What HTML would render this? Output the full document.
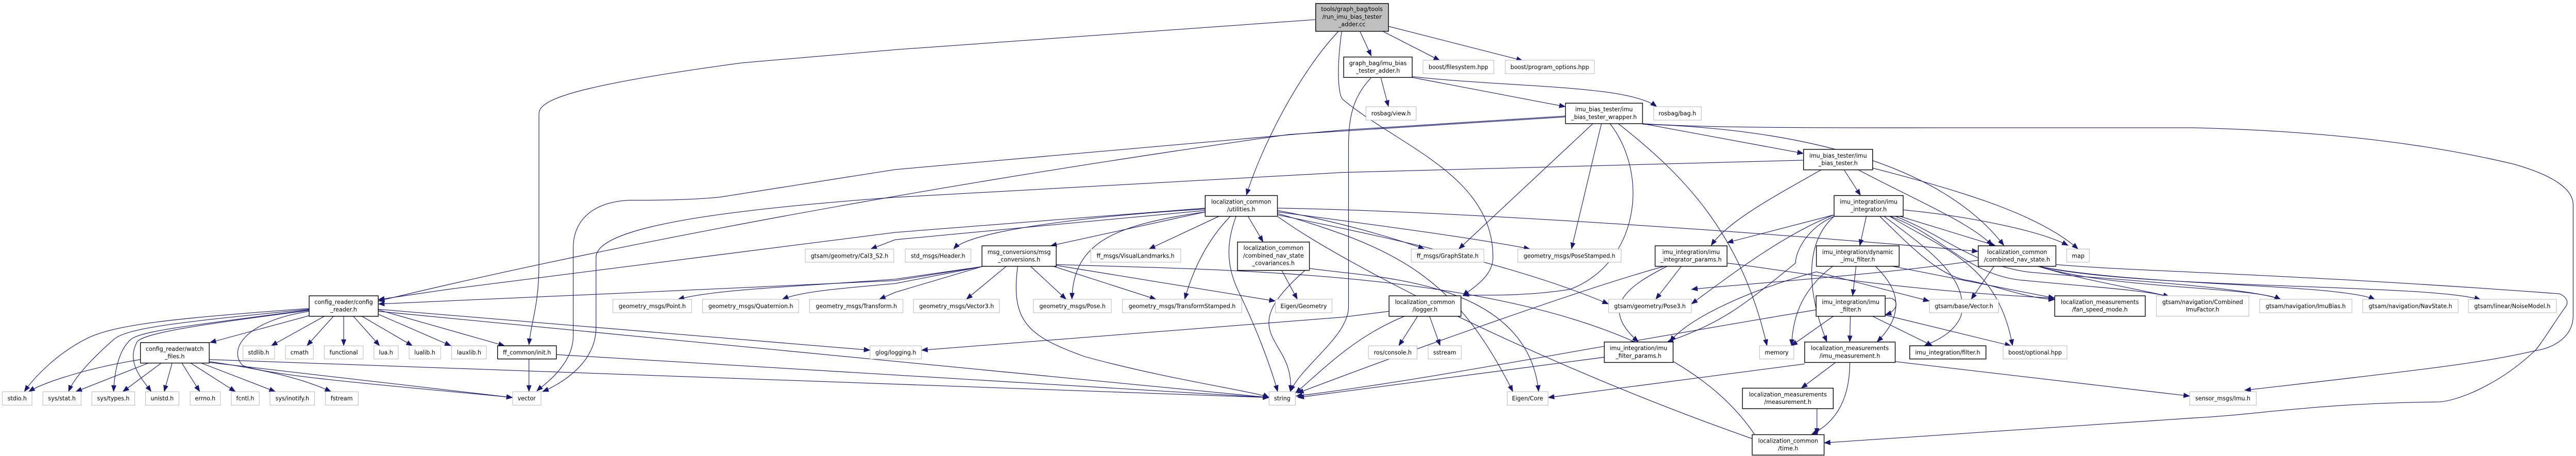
<!DOCTYPE html>
<html><head><meta charset="utf-8"><style>
html,body{margin:0;padding:0;background:#fff;width:100%;height:100%;overflow:hidden;}
svg{display:block;width:100vw;height:100vh;}
text{font-family:"DejaVu Sans","Liberation Sans",sans-serif;font-size:20px;fill:#000;text-anchor:middle;}
.e{fill:none;stroke:#191970;stroke-width:2;marker-end:url(#a);}
.g{fill:#fff;stroke:#bfbfbf;stroke-width:2;}
.b{fill:#fff;stroke:#000;stroke-width:2.5;}
.r{fill:#bfbfbf;stroke:#000;stroke-width:2.5;}
</style></head><body>
<svg viewBox="0 0 9024 1560" preserveAspectRatio="none" xmlns="http://www.w3.org/2000/svg">
<defs><marker id="a" markerUnits="userSpaceOnUse" markerWidth="24" markerHeight="20" refX="22" refY="9" orient="auto"><path d="M0,0 L23,9 L0,18 Z" fill="#191970"/></marker></defs>
<g>
<path class="e" d="M4689,107 C4550,250 4420,500 4366,668"/>
<path class="e" d="M4764,107 L4804,192"/>
<path class="e" d="M4844,107 L5044,207"/>
<path class="e" d="M4864,90 L5334,207"/>
<path class="e" d="M4609,67 L3136,170 L2600,215 C1950,300 1888,350 1888,390 L1888,900 C1888,1050 1860,1100 1853,1180"/>
<path class="e" d="M4700,107 C4680,250 4690,330 4704,340 C4900,500 5230,600 5230,880 C5230,950 5150,990 5124,1012"/>
<path class="e" d="M4947,265 L5484,365"/>
<path class="e" d="M4947,262 C5300,300 5700,290 5804,365"/>
<path class="e" d="M4837,265 L4864,365"/>
<path class="e" d="M4804,265 C4740,330 4724,400 4724,500 L4724,1050 C4724,1150 4560,1250 4520,1340"/>
<path class="e" d="M5580,423 L5110,852"/>
<path class="e" d="M5610,423 L5505,852"/>
<path class="e" d="M5484,397 L4704,445 L3136,580 L2518,675 C2400,685 2300,685 2208,685 C2080,690 2008,750 2008,850 L2008,1150 C2008,1250 1900,1320 1880,1338"/>
<path class="e" d="M5484,400 L4516,460 C3500,600 2300,800 1325,1030"/>
<path class="e" d="M5754,423 L6318,525"/>
<path class="e" d="M5754,425 C6300,440 6800,560 7020,840"/>
<path class="e" d="M5754,423 C6000,440 6500,437 7000,437 L7683,437 C8200,450 8538,500 8800,560 C8950,600 9014,650 9014,700 L9014,1080 C9014,1150 8950,1190 8880,1200 C8700,1240 8538,1260 7863,1335"/>
<path class="e" d="M5640,423 C5780,600 5740,900 5500,990 C5300,1020 5150,1005 5124,1012"/>
<path class="e" d="M5669,423 C5900,600 6100,800 6190,1183"/>
<path class="e" d="M6318,548 L4704,590 L3136,675 C2500,720 2088,780 2088,880 L2088,1120 C2088,1250 1950,1320 1900,1340"/>
<path class="e" d="M6460,581 L6518,669"/>
<path class="e" d="M6560,575 C6900,660 7150,740 7280,852"/>
<path class="e" d="M6510,581 C6700,680 6900,760 6980,840"/>
<path class="e" d="M6380,581 C6200,680 6050,760 5994,840"/>
<path class="e" d="M4222,712 L3136,795 L1568,990 L1325,1025"/>
<path class="e" d="M4222,715 C3800,740 3400,790 3340,852"/>
<path class="e" d="M4222,725 L3680,841"/>
<path class="e" d="M4222,725 C3900,770 3760,830 3755,1024"/>
<path class="e" d="M4270,740 L4025,852"/>
<path class="e" d="M4310,740 C4230,820 4180,920 4150,1024"/>
<path class="e" d="M4330,740 C4300,820 4290,900 4340,1000 C4400,1120 4450,1250 4476,1340"/>
<path class="e" d="M4372,740 L4425,828"/>
<path class="e" d="M4222,720 L3136,820 L3050,852"/>
<path class="e" d="M4475,712 C5000,720 6000,780 6930,860"/>
<path class="e" d="M4475,720 C4700,760 4900,820 4990,852"/>
<path class="e" d="M4475,725 C4900,780 5200,820 5360,852"/>
<path class="e" d="M4475,730 C4900,850 5100,950 5300,1340"/>
<path class="e" d="M4475,735 C4800,800 5300,900 5635,1040"/>
<path class="e" d="M4475,740 C4700,900 5400,1250 6165,1510"/>
<path class="e" d="M3440,912 L3136,960 C2700,980 1800,1020 1325,1040"/>
<path class="e" d="M3440,912 L3136,955 C2800,980 2500,990 2375,1024"/>
<path class="e" d="M3440,912 L3136,970 C2900,990 2800,1000 2740,1024"/>
<path class="e" d="M3440,912 L3136,1000 L3080,1024"/>
<path class="e" d="M3525,911 L3385,1024"/>
<path class="e" d="M3610,911 L3735,1024"/>
<path class="e" d="M3690,911 L4050,1024"/>
<path class="e" d="M3700,908 L4468,1030"/>
<path class="e" d="M3565,911 C3540,1100 3600,1150 3800,1220 C4100,1300 4400,1340 4446,1360"/>
<path class="e" d="M3700,905 C4500,930 5800,930 6162,1510"/>
<path class="e" d="M4490,925 L4545,1024"/>
<path class="e" d="M4587,918 C4800,950 5350,950 5390,1340"/>
<path class="e" d="M4587,912 C4300,1150 4540,1150 4520,1340"/>
<path class="e" d="M1136,1082 L950,1183"/>
<path class="e" d="M1168,1082 L1075,1183"/>
<path class="e" d="M1204,1082 L1204,1183"/>
<path class="e" d="M1238,1082 L1330,1183"/>
<path class="e" d="M1268,1082 L1445,1183"/>
<path class="e" d="M1325,1075 L1580,1183"/>
<path class="e" d="M1325,1060 L1768,1183"/>
<path class="e" d="M1325,1058 L3048,1198"/>
<path class="e" d="M1325,1065 L4446,1360"/>
<path class="e" d="M1083,1080 L735,1172"/>
<path class="e" d="M1083,1055 C600,1090 400,1110 300,1160 C200,1210 120,1290 85,1340"/>
<path class="e" d="M1083,1058 C650,1100 450,1120 400,1160 C330,1220 260,1290 240,1340"/>
<path class="e" d="M1083,1060 C700,1110 500,1130 460,1160 C410,1200 400,1290 398,1340"/>
<path class="e" d="M1083,1062 C700,1110 500,1140 480,1170 C440,1240 500,1300 530,1340"/>
<path class="e" d="M1083,1065 C850,1100 800,1200 850,1250 C950,1290 1500,1330 1796,1360"/>
<path class="e" d="M492,1230 C300,1260 150,1310 100,1340"/>
<path class="e" d="M520,1242 L265,1340"/>
<path class="e" d="M565,1242 L430,1340"/>
<path class="e" d="M603,1242 L575,1340"/>
<path class="e" d="M637,1242 L700,1340"/>
<path class="e" d="M668,1242 L825,1340"/>
<path class="e" d="M705,1242 L965,1340"/>
<path class="e" d="M733,1237 C900,1260 1050,1290 1160,1340"/>
<path class="e" d="M733,1240 L1796,1360"/>
<path class="e" d="M733,1230 L4446,1360"/>
<path class="e" d="M1853,1228 L1853,1340"/>
<path class="e" d="M1949,1213 L4446,1360"/>
<path class="e" d="M4866,1065 L4704,1085 L3228,1198"/>
<path class="e" d="M4966,1082 L4900,1183"/>
<path class="e" d="M5008,1082 L5045,1183"/>
<path class="e" d="M4920,1082 C4750,1150 4650,1250 4538,1345"/>
<path class="e" d="M6538,740 L6515,841"/>
<path class="e" d="M6655,740 L6990,840"/>
<path class="e" d="M6667,718 C6900,740 7150,790 7245,840"/>
<path class="e" d="M6425,735 L6050,830"/>
<path class="e" d="M6425,740 C6300,850 6350,1050 6400,1170"/>
<path class="e" d="M6585,740 C6700,850 6800,950 6900,960 C7000,980 7100,1020 7198,1025"/>
<path class="e" d="M6620,740 C6800,800 6900,950 7100,960 C7300,980 7500,990 7600,1015"/>
<path class="e" d="M6640,740 C6800,800 6900,900 7100,930 C7300,950 7880,980 7990,1025"/>
<path class="e" d="M6425,740 C6330,780 6290,860 6290,900 C6100,1050 6040,1100 5840,1170"/>
<path class="e" d="M6425,735 C6250,800 6050,950 5925,1040"/>
<path class="e" d="M6600,740 C6750,850 6900,950 6870,1080 C6850,1130 6800,1160 6740,1183"/>
<path class="e" d="M6620,740 C6800,850 7000,900 7050,1183"/>
<path class="e" d="M6502,911 L6490,1012"/>
<path class="e" d="M6570,911 C6620,960 6700,1050 6575,1170"/>
<path class="e" d="M6363,930 L6759,1030"/>
<path class="e" d="M6630,911 L7198,1020"/>
<path class="e" d="M6420,911 C6300,1000 6280,1100 6276,1183"/>
<path class="e" d="M6363,930 C6100,1000 5900,1100 5850,1170"/>
<path class="e" d="M6985,911 L6905,1024"/>
<path class="e" d="M7140,911 C7300,960 7500,990 7600,1015"/>
<path class="e" d="M7140,911 C7400,990 7900,980 7990,1025"/>
<path class="e" d="M7140,911 C7500,980 8200,970 8320,1025"/>
<path class="e" d="M7140,911 C7500,990 8500,970 8690,1025"/>
<path class="e" d="M6930,890 C6600,940 6000,980 5925,990"/>
<path class="e" d="M7202,905 C7500,930 8000,935 8966,1005 C9000,1020 8995,1040 8987,1050 C8950,1100 8900,1180 8880,1200 C8750,1320 8600,1375 8538,1375 C8100,1380 7900,1420 7683,1430 L6390,1515"/>
<path class="e" d="M5890,911 L5800,1024"/>
<path class="e" d="M5840,911 C5700,980 5600,1050 5740,1170"/>
<path class="e" d="M5830,911 C5500,1000 4800,1250 4545,1345"/>
<path class="e" d="M6050,900 C6300,930 6600,990 7198,1020"/>
<path class="e" d="M6604,1022 C6650,1010 6660,1060 6604,1077"/>
<path class="e" d="M6482,1082 L6480,1170"/>
<path class="e" d="M6560,1082 L6770,1183"/>
<path class="e" d="M6604,1078 L7045,1183"/>
<path class="e" d="M6422,1082 L6275,1183"/>
<path class="e" d="M6362,1060 C5500,1200 5000,1300 4540,1355"/>
<path class="e" d="M5620,1222 L4546,1360"/>
<path class="e" d="M6430,1240 L6310,1328"/>
<path class="e" d="M6480,1240 C6480,1380 6420,1450 6345,1487"/>
<path class="e" d="M6639,1237 L7671,1355"/>
<path class="e" d="M6322,1245 L5423,1360"/>
<path class="e" d="M6365,1398 L6365,1487"/>
</g>
<g>
<rect class="r" x="4609" y="12" width="255" height="95"/><text x="4736" y="38">tools/graph_bag/tools</text><text x="4736" y="64">/run_imu_bias_tester</text><text x="4736" y="90">_adder.cc</text>
<rect class="b" x="4707" y="195" width="240" height="70"/><text x="4827" y="223">graph_bag/imu_bias</text><text x="4827" y="249">_tester_adder.h</text>
<rect class="g" x="4985" y="206" width="248" height="46"/><text x="5109" y="236">boost/filesystem.hpp</text>
<rect class="g" x="5273" y="206" width="312" height="46"/><text x="5429" y="236">boost/program_options.hpp</text>
<rect class="g" x="4785" y="365" width="176" height="46"/><text x="4873" y="395">rosbag/view.h</text>
<rect class="b" x="5484" y="353" width="270" height="70"/><text x="5619" y="381">imu_bias_tester/imu</text><text x="5619" y="407">_bias_tester_wrapper.h</text>
<rect class="g" x="5793" y="365" width="167" height="46"/><text x="5876" y="395">rosbag/bag.h</text>
<rect class="b" x="6318" y="511" width="242" height="70"/><text x="6439" y="539">imu_bias_tester/imu</text><text x="6439" y="565">_bias_tester.h</text>
<rect class="b" x="6425" y="669" width="242" height="71"/><text x="6546" y="697">imu_integration/imu</text><text x="6546" y="723">_integrator.h</text>
<rect class="b" x="4222" y="669" width="253" height="71"/><text x="4348" y="697">localization_common</text><text x="4348" y="723">/utilities.h</text>
<rect class="g" x="3171" y="852" width="230" height="45"/><text x="3286" y="882">std_msgs/Header.h</text>
<rect class="b" x="3440" y="841" width="260" height="70"/><text x="3570" y="869">msg_conversions/msg</text><text x="3570" y="895">_conversions.h</text>
<rect class="g" x="3821" y="852" width="315" height="45"/><text x="3978" y="882">ff_msgs/VisualLandmarks.h</text>
<rect class="b" x="4335" y="828" width="252" height="97"/><text x="4461" y="855">localization_common</text><text x="4461" y="881">/combined_nav_state</text><text x="4461" y="907">_covariances.h</text>
<rect class="g" x="2821" y="852" width="310" height="45"/><text x="2976" y="882">gtsam/geometry/Cal3_S2.h</text>
<rect class="g" x="4944" y="852" width="254" height="45"/><text x="5071" y="882">ff_msgs/GraphState.h</text>
<rect class="g" x="5317" y="852" width="362" height="45"/><text x="5498" y="882">geometry_msgs/PoseStamped.h</text>
<rect class="b" x="5798" y="841" width="252" height="70"/><text x="5924" y="869">imu_integration/imu</text><text x="5924" y="895">_integrator_params.h</text>
<rect class="b" x="6363" y="841" width="290" height="70"/><text x="6508" y="869">imu_integration/dynamic</text><text x="6508" y="895">_imu_filter.h</text>
<rect class="b" x="6930" y="841" width="272" height="70"/><text x="7066" y="869">localization_common</text><text x="7066" y="895">/combined_nav_state.h</text>
<rect class="g" x="7240" y="852" width="79" height="45"/><text x="7280" y="882">map</text>
<rect class="b" x="1083" y="1012" width="242" height="70"/><text x="1204" y="1040">config_reader/config</text><text x="1204" y="1066">_reader.h</text>
<rect class="b" x="4866" y="1012" width="252" height="70"/><text x="4992" y="1040">localization_common</text><text x="4992" y="1066">/logger.h</text>
<rect class="g" x="2147" y="1024" width="276" height="46"/><text x="2285" y="1054">geometry_msgs/Point.h</text>
<rect class="g" x="2461" y="1024" width="337" height="46"/><text x="2630" y="1054">geometry_msgs/Quaternion.h</text>
<rect class="g" x="2836" y="1024" width="327" height="46"/><text x="3000" y="1054">geometry_msgs/Transform.h</text>
<rect class="g" x="3200" y="1024" width="301" height="46"/><text x="3351" y="1054">geometry_msgs/Vector3.h</text>
<rect class="g" x="3620" y="1024" width="273" height="46"/><text x="3757" y="1054">geometry_msgs/Pose.h</text>
<rect class="g" x="3932" y="1024" width="418" height="46"/><text x="4141" y="1054">geometry_msgs/TransformStamped.h</text>
<rect class="g" x="4468" y="1024" width="198" height="46"/><text x="4567" y="1054">Eigen/Geometry</text>
<rect class="g" x="5635" y="1024" width="290" height="46"/><text x="5780" y="1054">gtsam/geometry/Pose3.h</text>
<rect class="b" x="6362" y="1012" width="242" height="70"/><text x="6483" y="1040">imu_integration/imu</text><text x="6483" y="1066">_filter.h</text>
<rect class="g" x="6759" y="1024" width="242" height="46"/><text x="6880" y="1054">gtsam/base/Vector.h</text>
<rect class="b" x="7198" y="1012" width="317" height="70"/><text x="7356" y="1040">localization_measurements</text><text x="7356" y="1066">/fan_speed_mode.h</text>
<rect class="g" x="7554" y="1012" width="324" height="70"/><text x="7716" y="1040">gtsam/navigation/Combined</text><text x="7716" y="1066">ImuFactor.h</text>
<rect class="g" x="7916" y="1024" width="323" height="46"/><text x="8077" y="1054">gtsam/navigation/ImuBias.h</text>
<rect class="g" x="8277" y="1024" width="334" height="46"/><text x="8444" y="1054">gtsam/navigation/NavState.h</text>
<rect class="g" x="8647" y="1024" width="308" height="46"/><text x="8801" y="1054">gtsam/linear/NoiseModel.h</text>
<rect class="b" x="492" y="1172" width="241" height="70"/><text x="612" y="1200">config_reader/watch</text><text x="612" y="1226">_files.h</text>
<rect class="g" x="851" y="1183" width="111" height="45"/><text x="906" y="1213">stdlib.h</text>
<rect class="g" x="1000" y="1183" width="98" height="45"/><text x="1049" y="1213">cmath</text>
<rect class="g" x="1136" y="1183" width="136" height="45"/><text x="1204" y="1213">functional</text>
<rect class="g" x="1310" y="1183" width="85" height="45"/><text x="1352" y="1213">lua.h</text>
<rect class="g" x="1433" y="1183" width="111" height="45"/><text x="1488" y="1213">lualib.h</text>
<rect class="g" x="1582" y="1183" width="122" height="45"/><text x="1643" y="1213">lauxlib.h</text>
<rect class="b" x="1743" y="1183" width="206" height="45"/><text x="1846" y="1213">ff_common/init.h</text>
<rect class="g" x="3048" y="1183" width="180" height="45"/><text x="3138" y="1213">glog/logging.h</text>
<rect class="g" x="4794" y="1183" width="170" height="45"/><text x="4879" y="1213">ros/console.h</text>
<rect class="g" x="5003" y="1183" width="116" height="45"/><text x="5061" y="1213">sstream</text>
<rect class="b" x="5620" y="1170" width="241" height="70"/><text x="5740" y="1198">imu_integration/imu</text><text x="5740" y="1224">_filter_params.h</text>
<rect class="g" x="6164" y="1183" width="120" height="45"/><text x="6224" y="1213">memory</text>
<rect class="b" x="6322" y="1170" width="317" height="70"/><text x="6480" y="1198">localization_measurements</text><text x="6480" y="1224">/imu_measurement.h</text>
<rect class="b" x="6690" y="1183" width="267" height="45"/><text x="6823" y="1213">imu_integration/filter.h</text>
<rect class="g" x="7017" y="1183" width="224" height="45"/><text x="7129" y="1213">boost/optional.hpp</text>
<rect class="g" x="8" y="1340" width="104" height="46"/><text x="60" y="1370">stdio.h</text>
<rect class="g" x="150" y="1340" width="134" height="46"/><text x="217" y="1370">sys/stat.h</text>
<rect class="g" x="322" y="1340" width="150" height="46"/><text x="397" y="1370">sys/types.h</text>
<rect class="g" x="510" y="1340" width="117" height="46"/><text x="568" y="1370">unistd.h</text>
<rect class="g" x="666" y="1340" width="106" height="46"/><text x="719" y="1370">errno.h</text>
<rect class="g" x="810" y="1340" width="98" height="46"/><text x="859" y="1370">fcntl.h</text>
<rect class="g" x="946" y="1340" width="156" height="46"/><text x="1024" y="1370">sys/inotify.h</text>
<rect class="g" x="1140" y="1340" width="115" height="46"/><text x="1197" y="1370">fstream</text>
<rect class="g" x="1796" y="1340" width="99" height="46"/><text x="1845" y="1370">vector</text>
<rect class="g" x="5280" y="1340" width="143" height="46"/><text x="5351" y="1370">Eigen/Core</text>
<rect class="g" x="4446" y="1340" width="92" height="46"/><text x="4492" y="1370">string</text>
<rect class="b" x="6104" y="1328" width="318" height="70"/><text x="6263" y="1356">localization_measurements</text><text x="6263" y="1382">/measurement.h</text>
<rect class="g" x="7671" y="1340" width="233" height="46"/><text x="7787" y="1370">sensor_msgs/Imu.h</text>
<rect class="b" x="6138" y="1487" width="252" height="70"/><text x="6264" y="1515">localization_common</text><text x="6264" y="1541">/time.h</text>
</g>
</svg>
</body></html>
